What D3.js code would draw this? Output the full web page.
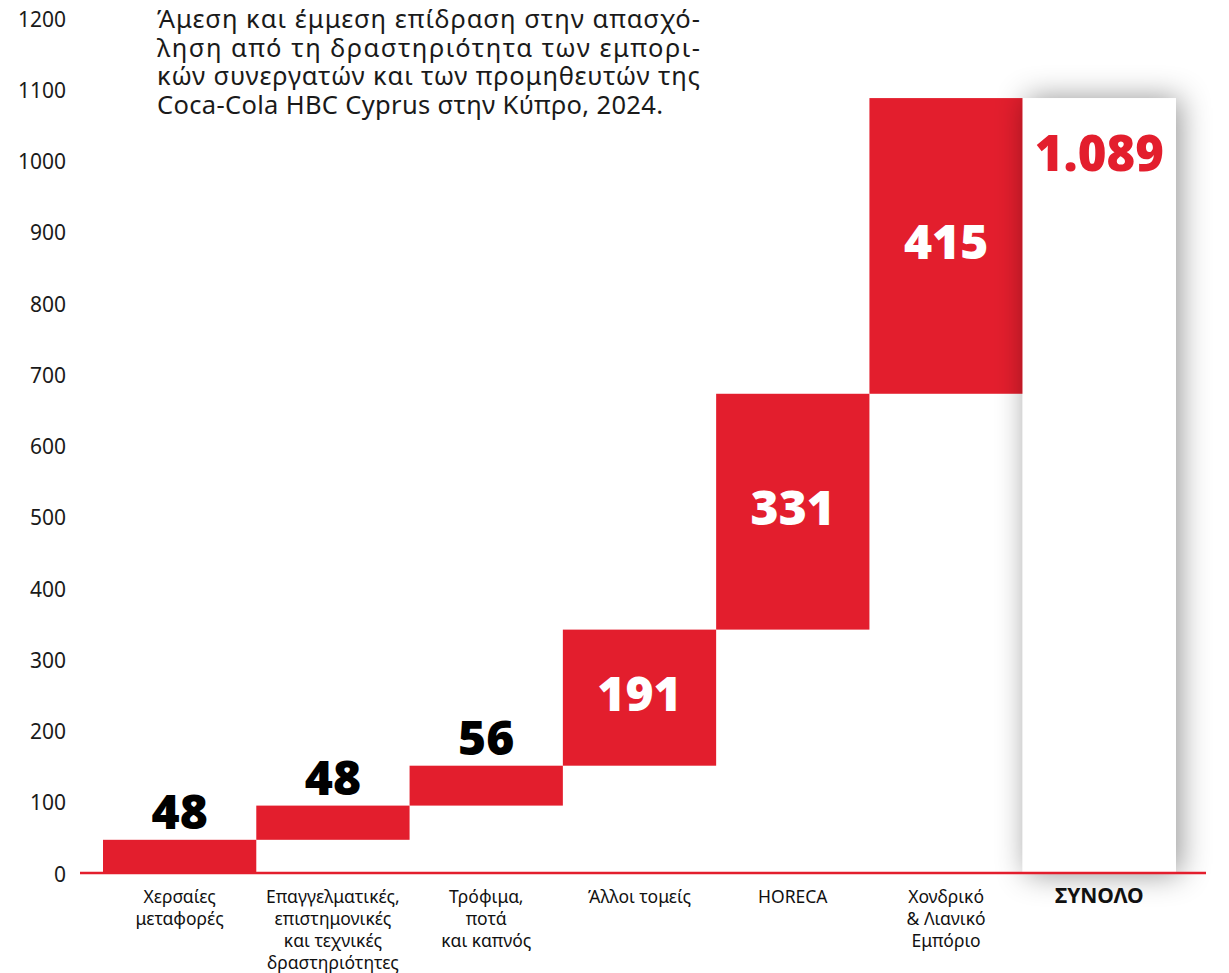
<!DOCTYPE html>
<html>
<head>
<meta charset="utf-8">
<script src="https://cdn.jsdelivr.net/npm/d3@7"></script>
<style>
  body { margin: 0; background: #fff; }
  svg { display: block; font-family: "Noto Sans", sans-serif; }
</style>
</head>
<body>
<div id="container"></div>
<script>
// data
var categories = [
  ["Χερσαίες", "μεταφορές"],
  ["Επαγγελματικές,", "επιστημονικές", "και τεχνικές", "δραστηριότητες"],
  ["Τρόφιμα,", "ποτά", "και καπνός"],
  ["Άλλοι τομείς"],
  ["HORECA"],
  ["Χονδρικό", "& Λιανικό", "Εμπόριο"],
  ["ΣΥΝΟΛΟ"]
];
var values = [48, 48, 56, 191, 331, 415];
var total = 1089;
var totalLabel = "1.089";
var yTicks = [0, 100, 200, 300, 400, 500, 600, 700, 800, 900, 1000, 1100, 1200];
var titleLines = [
  "Άμεση και έμμεση επίδραση στην απασχό-",
  "ληση από τη δραστηριότητα των εμπορι-",
  "κών συνεργατών και των προμηθευτών της",
  "Coca-Cola HBC Cyprus στην Κύπρο, 2024."
];

var w = 1229, h = 973;
var red = "#e31e2d";

var svg = d3.select("#container").append("svg")
  .attr("width", w).attr("height", h);

var defs = svg.append("defs");
var f = defs.append("filter").attr("id", "shadow")
  .attr("x", "-50%").attr("y", "-10%").attr("width", "200%").attr("height", "120%");
f.append("feDropShadow").attr("dx", 4).attr("dy", 0)
  .attr("stdDeviation", 15).attr("flood-color", "#000").attr("flood-opacity", 0.42);

var x = d3.scaleBand()
  .domain(d3.range(categories.length))
  .range([103, 1176])
  .padding(0);

var y = d3.scaleLinear().domain([0, 1200]).range([874, 19]);

// running totals for the waterfall
var steps = [];
var acc = 0;
values.forEach(function(v, i) {
  steps.push({i: i, v: v, start: acc, end: acc + v});
  acc += v;
});

// y axis labels
svg.append("g").selectAll("text")
  .data(yTicks)
  .enter().append("text")
  .attr("x", 66)
  .attr("y", function(d) { return y(d); })
  .attr("dy", "0.36em")
  .attr("text-anchor", "end")
  .attr("font-size", "21px")
  .attr("fill", "#1a1a1a")
  .text(function(d) { return d; });

// red bars
svg.append("g").selectAll("rect")
  .data(steps)
  .enter().append("rect")
  .attr("x", function(d) { return x(d.i); })
  .attr("width", x.bandwidth())
  .attr("y", function(d) { return y(d.end); })
  .attr("height", function(d) { return y(d.start) - y(d.end); })
  .attr("fill", red);

// total bar, white with a soft shadow
svg.append("rect")
  .attr("x", x(6))
  .attr("width", x.bandwidth())
  .attr("y", y(total))
  .attr("height", y(0) - y(total))
  .attr("fill", "#fff")
  .attr("filter", "url(#shadow)");

// baseline
svg.append("line")
  .attr("x1", 80).attr("x2", 1206)
  .attr("y1", y(0) - 1).attr("y2", y(0) - 1)
  .attr("stroke", red).attr("stroke-width", 2.5);

// value labels
svg.append("g").selectAll("text")
  .data(steps)
  .enter().append("text")
  .attr("x", function(d) { return x(d.i) + x.bandwidth() / 2; })
  .attr("y", function(d) {
    if (d.v < 100) return y(d.end) - 11;
    return (y(d.start) + y(d.end)) / 2 + 13;
  })
  .attr("text-anchor", "middle")
  .attr("font-size", "48px")
  .attr("font-weight", "900")
  .attr("fill", function(d) { return d.v < 100 ? "#000" : "#fff"; })
  .text(function(d) { return d.v; });

svg.append("text")
  .attr("x", x(6) + x.bandwidth() / 2)
  .attr("y", y(total) + 73)
  .attr("text-anchor", "middle")
  .attr("font-size", "49px")
  .attr("font-weight", "900")
  .attr("fill", red)
  .text(totalLabel);

// category labels
var cat = svg.append("g").selectAll("text")
  .data(categories)
  .enter().append("text")
  .attr("x", function(d, i) { return x(i) + x.bandwidth() / 2; })
  .attr("y", 903)
  .attr("text-anchor", "middle")
  .attr("font-size", function(d, i) { return i === 6 ? "21px" : "17.5px"; })
  .attr("font-weight", function(d, i) { return i === 6 ? "bold" : "normal"; })
  .attr("fill", "#111");
cat.selectAll("tspan")
  .data(function(d) { return d; })
  .enter().append("tspan")
  .attr("x", function() { return d3.select(this.parentNode).attr("x"); })
  .attr("dy", function(d, j) { return j === 0 ? 0 : 22; })
  .text(function(d) { return d; });

// title, one text block with a line per tspan
var title = svg.append("text")
  .attr("x", 157)
  .attr("y", 28)
  .attr("font-size", "25.5px")
  .attr("fill", "#1a1a1a");
title.selectAll("tspan")
  .data(titleLines)
  .enter().append("tspan")
  .attr("x", 157)
  .attr("dy", function(d, i) { return i === 0 ? 0 : 28.7; })
  .attr("textLength", function(d, i) { return i < 3 ? 543 : 506; })
  .attr("lengthAdjust", "spacing")
  .text(function(d) { return d; });
</script>
</body>
</html>
